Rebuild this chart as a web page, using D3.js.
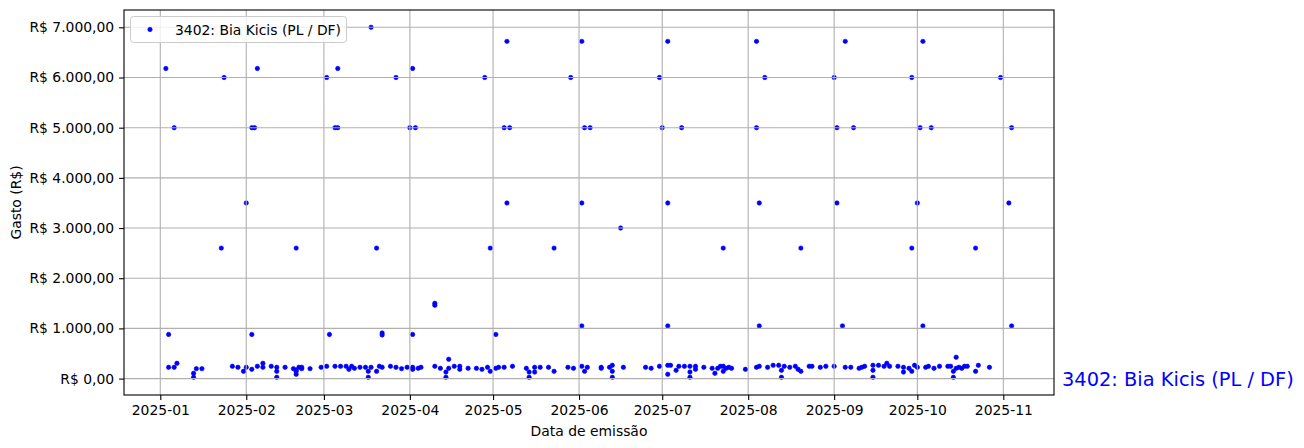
<!DOCTYPE html>
<html><head><meta charset="utf-8">
<script src="https://cdn.jsdelivr.net/npm/d3@7"></script>
<style>body{margin:0;background:#fff}text{font-family:"DejaVu Sans",sans-serif}</style>
</head><body><svg id="c" width="1304" height="448"></svg>
<script>
const seriesName = "3402: Bia Kicis (PL / DF)";
const yTicks = [0,1000,2000,3000,4000,5000,6000,7000];
const xTicks = ["2025-01","2025-02","2025-03","2025-04","2025-05","2025-06","2025-07","2025-08","2025-09","2025-10","2025-11"];
const emissionDates = [
"03-18","01-03","01-24","02-05","03-02","03-06","03-27","04-02","01-06","02-03","02-04","03-05","03-06","04-01","04-03",
"04-28","05-06","05-29","06-02","06-30","07-03","05-05","05-07","06-03","06-05","07-01","07-08",
"08-04","08-07","09-01","09-05","09-29","10-03","10-31","08-04","09-02","09-08","10-02","10-06","11-04",
"02-01","01-23","02-19","03-20","05-06","06-02","07-03","04-30","05-23","06-16","08-05","09-02","10-01","11-03",
"07-23","08-20","09-29","10-22",
"01-04","02-03","03-03","03-22","03-22","04-02","05-02","04-10","04-10","06-02","07-03","08-05","09-04","10-03","11-04",
"01-04","01-06","01-07","01-13","01-13","01-14","01-16","01-27","01-29","01-31","02-01","02-03","02-05","02-07","02-07",
"02-10","02-12","02-12","02-12","02-15","02-18","02-19","02-19","02-19","02-20","02-21","02-21","02-24","02-28",
"03-02","03-05","03-07","03-09","03-10","03-11","03-12","03-14","03-16","03-17","03-17","03-18","03-20","03-21",
"03-22","03-25","03-27","03-29","03-31","04-02","04-02","04-02","04-04","04-05","04-10","04-12","04-14","04-14",
"04-15","04-15","04-17","04-19","04-19","04-22","04-25","04-27","04-29","04-30","05-02","05-03","05-05","05-08",
"05-13","05-14","05-14","05-16","05-16","05-18","05-21","05-23","05-28","05-30","06-02","06-03","06-04","06-09",
"06-09","06-12","06-13","06-13","06-13","06-17","06-25","06-27","06-30","07-03","07-04","07-03","07-06","07-07",
"07-09","07-11","07-11","07-11","07-13","07-13","07-16","07-19","07-20","07-21","07-22","07-23","07-23","07-24",
"07-25","07-26","07-31","08-04","08-05","08-08","08-10","08-12","08-13","08-13","08-14","08-16","08-18","08-19",
"08-20","08-23","08-24","08-27","08-29","09-01","09-05","09-07","09-10","09-11","09-12","09-15","09-15","09-15",
"09-17","09-19","09-20","09-21","09-24","09-26","09-26","09-28","09-29","09-30","10-01","10-04","10-05","10-07",
"10-09","10-12","10-13","10-14","10-14","10-15","10-15","10-16","10-17","10-18","10-19","10-22","10-23","10-27"
];
const amounts = [
7000,6180,6000,6180,6000,6180,6000,6180,5000,5000,5000,5000,5000,5000,5000,
6000,6720,6000,6720,6000,6720,5000,5000,5000,5000,5000,5000,
6720,6000,6000,6720,6000,6720,6000,5000,5000,5000,5000,5000,5000,
3500,2600,2600,2600,3500,3500,3500,2600,2600,3000,3500,3500,3500,3500,
2600,2600,2600,2600,
880,880,880,910,870,880,880,1500,1460,1050,1050,1050,1050,1050,1050,
225,225,305,105,26,198,198,245,225,145,225,185,245,305,225,
245,225,145,26,225,198,145,85,170,225,225,198,198,225,
245,245,245,245,185,245,205,225,225,145,26,225,145,245,
225,245,225,198,225,198,185,225,205,225,245,205,130,26,
205,385,245,245,185,205,205,185,225,145,205,225,225,245,
205,130,26,225,130,225,225,145,225,205,245,145,225,225,
205,225,265,145,26,225,225,205,245,265,265,85,165,245,
245,245,130,26,185,245,225,205,105,205,245,145,245,205,
225,205,185,225,245,225,265,265,165,26,245,225,245,185,
145,245,245,225,245,245,225,225,205,225,245,265,165,26,
265,245,305,245,245,130,225,205,145,265,225,225,245,205,
245,245,245,145,26,425,205,225,205,245,245,145,265,225
];

const parse = d3.timeParse("%Y-%m-%d");
const data = emissionDates.map((d,i)=>({date: parse("2025-"+d), value: amounts[i]}));

const L = 124, R = 1054, T = 10, B = 395;
const svg = d3.select("#c");
svg.append("rect").attr("width",1304).attr("height",448).attr("fill","#fff");

const x = d3.scaleTime()
  .domain([new Date(2024,11,18,21,50), new Date(2025,10,19,6,43)])
  .range([L,R]);
const y = d3.scaleLinear().domain([-327, 7345]).range([B,T]);

const loc = d3.formatLocale({decimal:",", thousands:".", grouping:[3], currency:["R$ ",""]});
const fmt = loc.format("$,.2f");
const xTickDates = xTicks.map(s=>parse(s+"-01"));

// points
svg.append("g").selectAll("circle").data(data).join("circle")
  .attr("cx",d=>x(d.date)).attr("cy",d=>y(d.value)).attr("r",2.2)
  .attr("fill","#0000ff").attr("stroke","#0000ff").attr("stroke-width",0.6);

// grid (above points, like matplotlib)
const grid = svg.append("g").attr("stroke","#b0b0b0").attr("stroke-width",1.1);
grid.selectAll(".gx").data(xTickDates).join("line")
  .attr("x1",d=>x(d)).attr("x2",d=>x(d)).attr("y1",T).attr("y2",B);
grid.selectAll(".gy").data(yTicks).join("line")
  .attr("x1",L).attr("x2",R).attr("y1",d=>y(d)).attr("y2",d=>y(d));

// axes
const fs = "13.9px";
const xAxis = d3.axisBottom(x).tickValues(xTickDates).tickFormat(d3.timeFormat("%Y-%m")).tickSizeOuter(0).tickSize(4.9).tickPadding(4.9);
const gx = svg.append("g").attr("transform",`translate(0,${B})`).call(xAxis);
const yAxis = d3.axisLeft(y).tickValues(yTicks).tickFormat(fmt).tickSizeOuter(0).tickSize(4.9).tickPadding(4.9);
const gy = svg.append("g").attr("transform",`translate(${L},0)`).call(yAxis);
[gx,gy].forEach(g=>{
  g.select(".domain").remove();
  g.selectAll("line").attr("stroke","#000").attr("stroke-width",1.1);
  g.selectAll("text").attr("font-size",fs).attr("fill","#000").attr("font-family","DejaVu Sans");
});

// spines
svg.append("rect").attr("x",L).attr("y",T).attr("width",R-L).attr("height",B-T)
  .attr("fill","none").attr("stroke","#000").attr("stroke-width",1.1);

// axis labels
svg.append("text").attr("x",(L+R)/2).attr("y",436).attr("text-anchor","middle").attr("font-size",fs).text("Data de emissão");
svg.append("text").attr("transform",`translate(21,${(T+B)/2}) rotate(-90)`).attr("text-anchor","middle").attr("font-size",fs).text("Gasto (R$)");

// legend
const lg = svg.append("g");
lg.append("rect").attr("x",130.5).attr("y",16.5).attr("width",216).attr("height",26).attr("rx",3)
  .attr("fill","#fff").attr("fill-opacity",0.8).attr("stroke","#cccccc");
lg.append("circle").attr("cx",150).attr("cy",29.5).attr("r",2.2).attr("fill","#0000ff").attr("stroke","#0000ff").attr("stroke-width",0.6);
lg.append("text").attr("x",175).attr("y",34.5).attr("font-size",fs).text(seriesName);

// right label
svg.append("text").attr("x",1062).attr("y",y(0)+7).attr("font-size","19.4px").attr("fill","#0000ff").text(seriesName);
</script></body></html>
